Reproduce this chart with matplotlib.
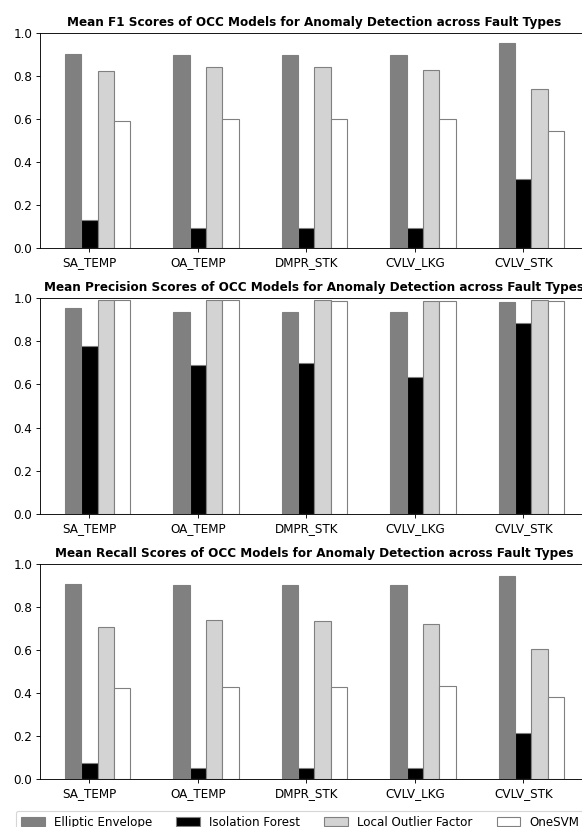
"""Grouped bar charts: mean F1 / precision / recall of OCC models per fault type."""

import matplotlib
matplotlib.use("Agg")
import matplotlib.pyplot as plt
import numpy as np

# ── Data ─────────────────────────────────────────────────────────────────────
fault_types = ["SA_TEMP", "OA_TEMP", "DMPR_STK", "CVLV_LKG", "CVLV_STK"]
models = ["Elliptic Envelope", "Isolation Forest", "Local Outlier Factor", "OneSVM"]

f1_ee   = [0.904, 0.898, 0.898, 0.896, 0.953]
f1_if   = [0.132, 0.095, 0.095, 0.092, 0.319]
f1_lof  = [0.824, 0.843, 0.840, 0.829, 0.741]
f1_osvm = [0.590, 0.600, 0.600, 0.600, 0.543]

prec_ee   = [0.955, 0.937, 0.937, 0.935, 0.982]
prec_if   = [0.778, 0.692, 0.701, 0.635, 0.884]
prec_lof  = [0.992, 0.992, 0.992, 0.988, 0.992]
prec_osvm = [0.989, 0.989, 0.988, 0.986, 0.988]

rec_ee   = [0.907, 0.904, 0.904, 0.904, 0.946]
rec_if   = [0.073, 0.051, 0.051, 0.050, 0.214]
rec_lof  = [0.707, 0.738, 0.736, 0.719, 0.603]
rec_osvm = [0.422, 0.429, 0.429, 0.431, 0.380]

# ── Style ────────────────────────────────────────────────────────────────────
_COLORS = ["gray", "black", "lightgray", "white"]
_EDGE = "gray"
_WIDTH = 0.15
_FONT = 10.75

W_PX, H_PX, DPI = 582, 827, 80

plt.rcParams["font.size"] = _FONT


def _draw_panel(ax, series, title):
    x = np.arange(len(fault_types))
    for i, (vals, name) in enumerate(zip(series, models)):
        ax.bar(x + (i - 1) * _WIDTH, vals, _WIDTH, color=_COLORS[i],
               edgecolor=_EDGE, label=name)
    ax.set_xticks(x)
    ax.set_xticklabels(fault_types)
    ax.set_ylim(0, 1.0)
    ax.set_title(title, fontsize=_FONT, fontweight="bold")


fig = plt.figure(figsize=(W_PX / DPI, H_PX / DPI), dpi=DPI)

# axes positions in pixels (left, top, bottom); right edge runs past the canvas
left_px, right_px = 40, 589
panels = [
    (33, 248, [f1_ee, f1_if, f1_lof, f1_osvm],
     "Mean F1 Scores of OCC Models for Anomaly Detection across Fault Types"),
    (298, 514, [prec_ee, prec_if, prec_lof, prec_osvm],
     "Mean Precision Scores of OCC Models for Anomaly Detection across Fault Types"),
    (564, 779, [rec_ee, rec_if, rec_lof, rec_osvm],
     "Mean Recall Scores of OCC Models for Anomaly Detection across Fault Types"),
]

axes = []
for top, bottom, series, title in panels:
    ax = fig.add_axes([left_px / W_PX, (H_PX - bottom) / H_PX,
                       (right_px - left_px) / W_PX, (bottom - top) / H_PX])
    _draw_panel(ax, series, title)
    axes.append(ax)

handles, labels = axes[-1].get_legend_handles_labels()
fig.legend(handles, labels, loc="upper left", ncol=4, borderaxespad=0,
           fontsize=10.7, bbox_to_anchor=(16 / W_PX, (H_PX - 811) / H_PX))

fig.savefig("out.png", dpi=DPI)
